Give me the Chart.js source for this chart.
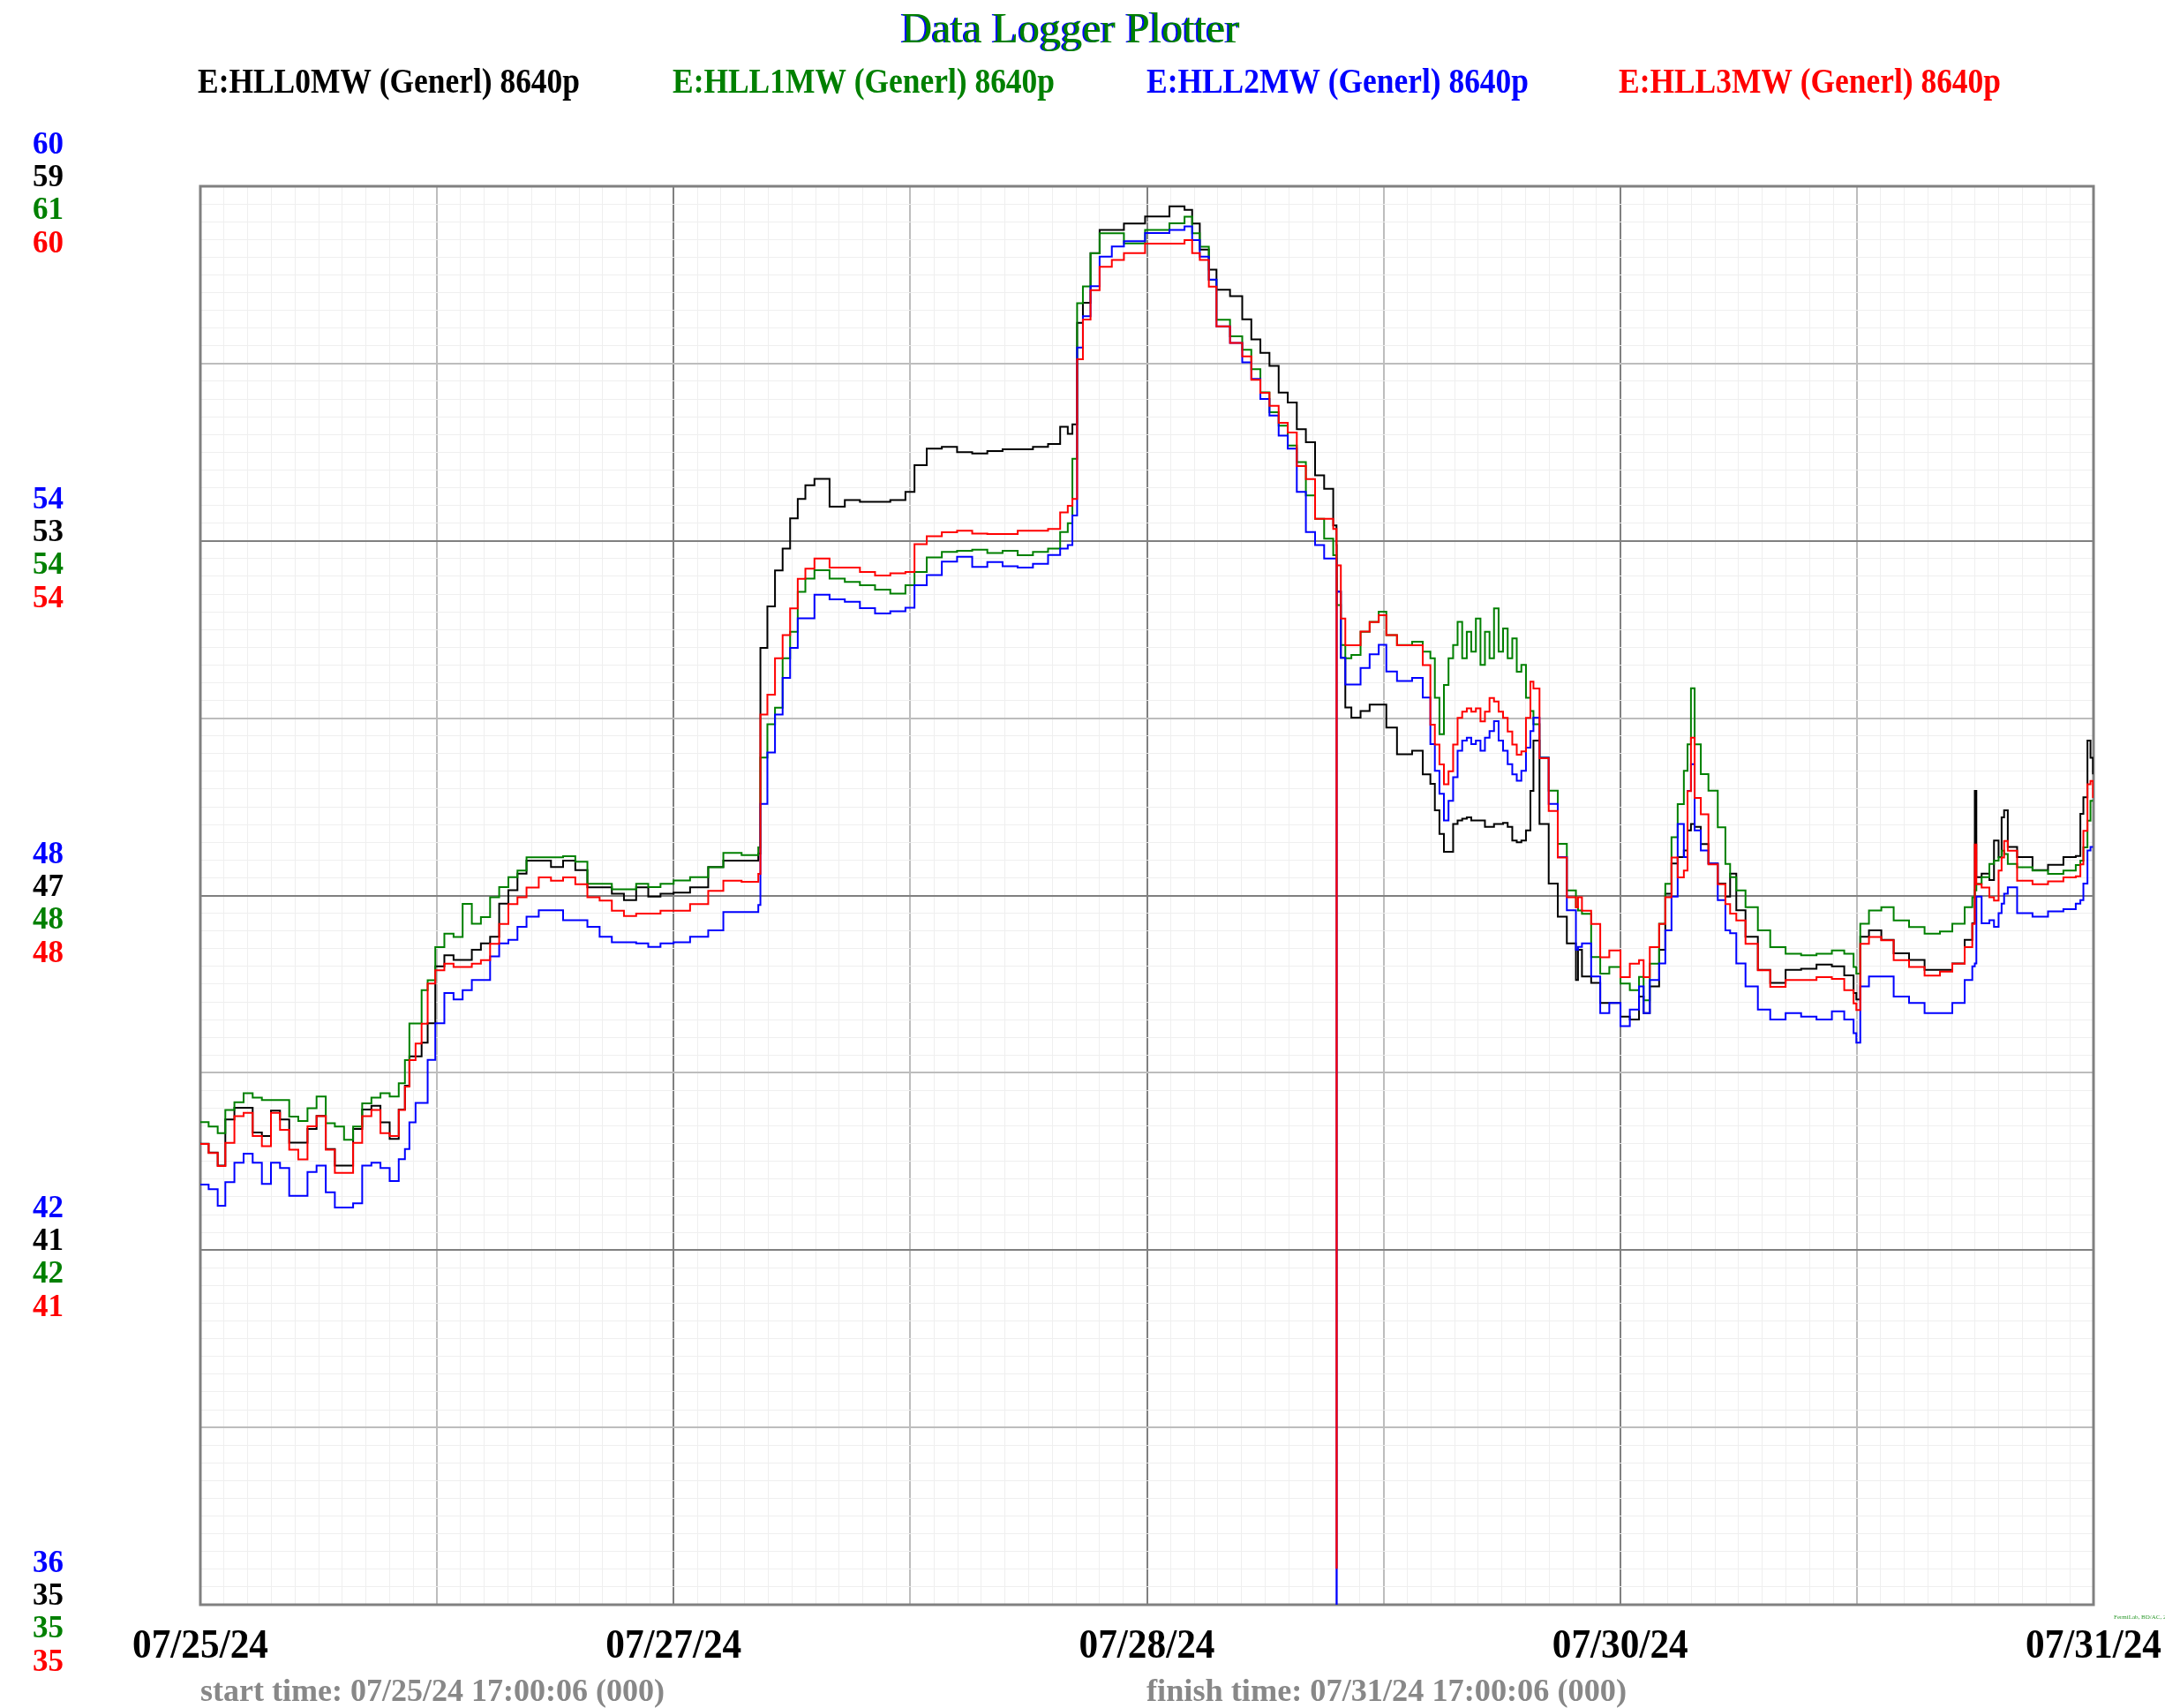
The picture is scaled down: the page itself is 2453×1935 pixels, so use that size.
<!DOCTYPE html>
<html>
<head>
<meta charset="utf-8">
<title>Data Logger Plotter</title>
<script src="https://cdn.jsdelivr.net/npm/chart.js"></script>
<style>
	html, body { margin: 0; padding: 0; background: #ffffff; }
	#wrap { width: 2453px; height: 1935px; }
</style>
</head>
<body>
<div id="wrap"><canvas id="plot" width="2453" height="1935"></canvas></div>
<script>
// hours since the start time (07/25/24 17:00:06)
const hours = [
	0, 0.63, 1.32, 1.9, 2.59, 3.29, 3.98, 4.68, 5.37, 6.06, 6.76, 7.45, 8.15, 8.84, 9.54, 10.23, 10.93, 11.62, 12.31, 13.01,
	13.7, 14.4, 15.09, 15.56, 15.9, 16.37, 16.83, 17.29, 17.87, 18.56, 19.26, 19.95, 20.65, 21.34, 22.04, 22.73, 23.43, 24.12, 24.81, 25.74,
	26.67, 27.59, 28.52, 29.44, 30.37, 31.3, 32.22, 33.15, 34.07, 35.0,
	36.0, 37.25, 38.63, 39.78, 41.17, 42.44, 42.6, 43.13, 43.71, 44.29, 44.86, 45.44, 46.02, 46.71, 47.86, 49.02, 50.17, 51.32, 52.48, 53.63,
	54.32, 55.25, 56.4, 57.56, 58.71, 59.86, 61.02, 62.17, 63.33, 64.48, 65.4, 65.98, 66.33, 66.69, 67.13, 67.71, 68.4, 69.33, 70.25,
	71.86, 73.71, 74.86, 75.44, 76.02, 76.71, 77.29, 78.32, 79.25, 79.94, 80.63, 81.32, 82.02, 82.71, 83.4, 84.09, 84.79, 85.48, 86.17, 86.42,
	86.44, 86.75, 87.09, 87.55, 88.25, 88.94, 89.63, 90.21, 91.02, 92.17, 92.98, 93.56, 93.9, 94.25, 94.59, 94.94, 95.29, 95.63, 95.98, 96.33,
	96.67, 97.02, 97.37, 97.71, 98.06, 98.4, 98.75, 99.09, 99.44, 99.79, 100.13, 100.48, 100.83, 101.17, 101.4, 101.86, 102.56, 103.25, 103.94, 104.63,
	104.79, 105.09, 105.79, 106.48, 107.17,
	108.02, 108.73, 109.43, 109.78, 110.25, 110.96, 111.43, 111.9, 112.37, 112.84, 113.12, 113.38, 113.66, 114.13, 114.71, 115.42, 116.0, 116.36, 116.83, 117.53,
	118.47, 119.41, 120.58, 121.76, 122.93, 124.1, 125.04, 125.75, 125.96, 126.26, 126.92, 127.86, 128.8, 129.97, 131.15, 132.32, 133.26, 134.2, 134.78, 134.97,
	135.09, 135.49, 136.08, 136.43, 136.78, 137.01, 137.2, 137.48, 138.19, 139.36, 140.54, 141.71, 142.65, 143.0, 143.23, 143.54, 143.77, 143.96
];

// E:HLL0MW (black)
const hll0 = [
	42.80, 42.65, 42.43, 43.21, 43.41, 43.41, 42.99, 42.93, 43.36, 43.21, 42.82, 42.82, 43.05, 43.27, 42.71, 42.43, 42.43, 43.05, 43.38, 43.44,
	43.16, 42.88, 43.38, 43.78, 44.28, 44.28, 44.51, 44.84, 45.80, 45.99, 45.91, 45.91, 46.08, 46.19, 46.30, 46.86, 47.09, 47.37, 47.59, 47.59,
	47.48, 47.59, 47.43, 47.14, 47.14, 47.03, 46.92, 47.14, 46.98, 47.03,
	47.05, 47.14, 47.48, 47.59, 47.59, 47.71, 51.19, 51.89, 52.50, 52.87, 53.38, 53.71, 53.94, 54.05, 53.58, 53.69, 53.66, 53.66, 53.69, 53.83,
	54.28, 54.56, 54.59, 54.50, 54.48, 54.52, 54.55, 54.55, 54.59, 54.64, 54.93, 54.81, 54.97, 56.69, 57.03, 57.87, 58.26, 58.26, 58.37,
	58.49, 58.66, 58.60, 58.37, 57.93, 57.59, 57.25, 57.14, 56.75, 56.41, 56.18, 55.96, 55.51, 55.34, 54.89, 54.67, 54.11, 53.88, 53.26, 52.93,
	52.14, 51.02, 50.18, 50.01, 50.12, 50.23, 50.23, 49.84, 49.39, 49.45, 49.05, 48.89, 48.44, 48.04, 47.74, 47.74, 48.21, 48.27, 48.30, 48.32,
	48.27, 48.27, 48.27, 48.16, 48.16, 48.21, 48.21, 48.23, 48.16, 47.93, 47.90, 47.93, 48.10, 48.77, 49.62, 48.21, 47.20, 46.64, 46.19, 45.57,
	46.08, 45.63, 45.52, 45.18, 45.18,
	44.95, 44.90, 45.29, 45.01, 45.46, 46.08, 47.03, 47.54, 47.65, 47.76, 48.10, 48.21, 48.16, 47.87, 47.54, 47.20, 46.98, 47.37, 46.75, 46.30,
	45.74, 45.52, 45.74, 45.76, 45.83, 45.80, 45.65, 45.35, 45.24, 46.30, 46.41, 46.25, 46.02, 45.91, 45.74, 45.74, 45.85, 46.25, 46.53, 48.77,
	47.31, 47.37, 47.26, 47.93, 47.65, 48.32, 48.44, 47.82, 47.65, 47.43, 47.52, 47.65, 47.67, 48.38, 48.66, 49.62, 49.33, 49.05
];

// E:HLL1MW (green)
const hll1 = [
	43.91, 43.83, 43.71, 44.13, 44.27, 44.43, 44.35, 44.31, 44.31, 44.31, 44.01, 43.93, 44.16, 44.37, 43.89, 43.83, 43.59, 43.83, 44.25, 44.35,
	44.43, 44.37, 44.61, 45.03, 45.69, 45.69, 46.29, 46.47, 47.07, 47.31, 47.25, 47.85, 47.49, 47.61, 47.97, 48.15, 48.33, 48.45, 48.69, 48.69,
	48.69, 48.71, 48.61, 48.21, 48.21, 48.11, 48.11, 48.21, 48.15, 48.21,
	48.27, 48.33, 48.51, 48.77, 48.73, 48.87, 50.49, 51.09, 51.39, 52.28, 52.76, 53.48, 53.72, 53.87, 53.72, 53.66, 53.60, 53.52, 53.45, 53.60,
	53.84, 54.10, 54.20, 54.22, 54.24, 54.18, 54.22, 54.14, 54.20, 54.26, 54.56, 54.72, 55.88, 58.69, 58.99, 59.59, 59.95, 59.95, 59.77,
	60.01, 60.13, 60.25, 59.95, 59.71, 59.11, 58.39, 58.09, 57.85, 57.50, 57.08, 56.72, 56.48, 56.12, 55.82, 55.22, 54.80, 54.44, 54.14, 53.72,
	53.24, 52.52, 52.28, 52.34, 52.76, 52.94, 53.12, 52.70, 52.52, 52.58, 52.40, 52.28, 51.57, 50.91, 51.80, 52.28, 52.52, 52.94, 52.28, 52.76,
	52.40, 53.00, 52.16, 52.76, 52.28, 53.18, 52.40, 52.82, 52.28, 52.64, 52.04, 52.16, 51.57, 51.33, 51.09, 50.49, 49.89, 48.93, 48.09, 47.79,
	47.73, 47.67, 46.89, 46.59, 46.71,
	46.41, 46.29, 46.53, 46.11, 46.77, 47.49, 48.21, 49.05, 49.65, 50.25, 50.73, 51.74, 50.73, 50.19, 49.89, 49.23, 48.57, 48.33, 48.09, 47.79,
	47.37, 47.07, 46.95, 46.92, 46.95, 47.01, 46.95, 46.71, 46.59, 47.49, 47.73, 47.79, 47.55, 47.43, 47.31, 47.35, 47.49, 47.79, 47.97, 48.09,
	48.21, 48.33, 48.57, 48.63, 48.69, 48.81, 48.75, 48.57, 48.51, 48.45, 48.39, 48.45, 48.55, 48.63, 48.87, 49.35, 49.71, 49.71
];

// E:HLL2MW (blue)
const hll2 = [
	43.11, 43.03, 42.75, 43.15, 43.48, 43.63, 43.48, 43.12, 43.48, 43.39, 42.92, 42.92, 43.32, 43.43, 42.98, 42.72, 42.72, 42.79, 43.43, 43.48,
	43.39, 43.17, 43.54, 43.71, 44.16, 44.49, 44.49, 45.22, 45.84, 46.35, 46.24, 46.40, 46.57, 46.57, 46.97, 47.19, 47.25, 47.47, 47.64, 47.75,
	47.75, 47.58, 47.58, 47.47, 47.30, 47.21, 47.21, 47.19, 47.13, 47.19,
	47.21, 47.30, 47.41, 47.72, 47.72, 47.84, 49.55, 50.42, 51.06, 51.68, 52.19, 52.69, 52.69, 53.09, 53.01, 52.97, 52.86, 52.77, 52.81, 52.87,
	53.25, 53.42, 53.65, 53.73, 53.56, 53.64, 53.57, 53.55, 53.61, 53.76, 53.87, 53.93, 54.43, 57.27, 57.80, 58.31, 58.81, 58.98, 59.07,
	59.21, 59.26, 59.32, 59.09, 58.81, 58.42, 57.63, 57.35, 57.02, 56.74, 56.40, 56.12, 55.78, 55.56, 54.83, 54.15, 53.93, 53.70, 53.70, 35.90,
	53.14, 52.02, 51.57, 51.57, 51.85, 52.08, 52.24, 51.79, 51.63, 51.68, 51.35, 50.56, 50.11, 49.72, 49.27, 49.60, 50.00, 50.45, 50.62, 50.67,
	50.56, 50.62, 50.45, 50.67, 50.78, 50.95, 50.62, 50.45, 50.22, 50.05, 49.94, 50.11, 50.50, 50.78, 51.01, 50.33, 49.55, 48.65, 47.75, 47.08,
	47.13, 47.19, 46.63, 46.01, 46.18,
	45.79, 46.07, 46.46, 46.01, 46.57, 46.85, 47.41, 47.98, 49.21, 48.65, 49.77, 50.22, 49.10, 48.76, 48.54, 47.92, 47.41, 47.36, 46.85, 46.46,
	46.07, 45.90, 46.01, 45.95, 45.90, 46.04, 45.90, 45.67, 45.51, 46.46, 46.63, 46.63, 46.29, 46.18, 46.01, 46.01, 46.18, 46.57, 46.80, 46.85,
	47.98, 47.53, 47.58, 47.47, 47.70, 47.86, 48.03, 48.14, 47.70, 47.64, 47.73, 47.77, 47.86, 47.92, 48.20, 48.76, 48.82, 48.82
];

// E:HLL3MW (red)
const hll3 = [
	43.12, 42.96, 42.73, 43.14, 43.61, 43.67, 43.26, 43.08, 43.67, 43.37, 43.02, 42.85, 43.43, 43.61, 43.02, 42.61, 42.61, 43.14, 43.61, 43.72,
	43.31, 43.26, 43.72, 44.13, 44.60, 44.89, 45.24, 45.95, 46.18, 46.30, 46.24, 46.24, 46.30, 46.36, 46.65, 47.00, 47.35, 47.47, 47.64, 47.82,
	47.76, 47.82, 47.70, 47.47, 47.41, 47.23, 47.14, 47.18, 47.18, 47.23,
	47.23, 47.35, 47.58, 47.76, 47.74, 47.88, 50.69, 51.04, 51.68, 52.09, 52.56, 53.08, 53.26, 53.44, 53.28, 53.28, 53.20, 53.14, 53.18, 53.20,
	53.69, 53.83, 53.90, 53.93, 53.88, 53.87, 53.87, 53.93, 53.93, 53.96, 54.25, 54.37, 54.49, 56.95, 57.65, 58.17, 58.58, 58.70, 58.82,
	58.99, 58.99, 59.05, 58.82, 58.70, 58.23, 57.53, 57.24, 57.00, 56.59, 56.36, 56.13, 55.83, 55.66, 55.07, 54.84, 54.14, 54.14, 53.96, 35.65,
	53.32, 52.38, 51.91, 51.91, 52.15, 52.32, 52.44, 52.09, 51.91, 51.91, 51.56, 50.51, 50.16, 49.81, 49.46, 49.69, 50.16, 50.63, 50.74, 50.80,
	50.74, 50.80, 50.57, 50.74, 50.98, 50.92, 50.74, 50.63, 50.39, 50.16, 49.98, 50.04, 50.63, 51.27, 51.15, 49.92, 48.99, 48.17, 47.47, 47.29,
	47.47, 47.23, 47.00, 46.41, 46.53,
	46.06, 46.30, 46.36, 46.06, 46.59, 47.00, 47.47, 48.17, 47.82, 47.94, 49.34, 50.28, 49.22, 48.93, 48.05, 47.70, 47.35, 47.18, 47.06, 46.65,
	46.18, 45.89, 46.01, 46.01, 46.06, 46.03, 45.83, 45.60, 45.48, 46.65, 46.77, 46.71, 46.36, 46.24, 46.09, 46.16, 46.30, 46.59, 47.00, 48.40,
	47.70, 47.64, 47.47, 47.41, 47.94, 48.17, 48.46, 48.29, 47.76, 47.70, 47.75, 47.82, 47.84, 48.05, 48.64, 49.46, 49.52, 49.22
];

const seriesNames = [
	"E:HLL0MW (Generl) 8640p",
	"E:HLL1MW (Generl) 8640p",
	"E:HLL2MW (Generl) 8640p",
	"E:HLL3MW (Generl) 8640p",
];

// left hand labels, top to bottom, one list per trace
const ticks0 = ["59", "53", "47", "41", "35"];
const ticks1 = ["61", "54", "48", "42", "35"];
const ticks2 = ["60", "54", "48", "42", "36"];
const ticks3 = ["60", "54", "48", "41", "35"];

const dateLabels = ["07/25/24", "07/27/24", "07/28/24", "07/30/24", "07/31/24"];
const dateHours = [0, 36, 72, 108, 144];

const startText = "start time: 07/25/24 17:00:06 (000)";
const finishText = "finish time: 07/31/24 17:00:06 (000)";

const BLACK = "#000000";
const GREEN = "#008000";
const BLUE = "#0000ff";
const RED = "#ff0000";
const SERIF = "'Liberation Serif', 'Times New Roman', serif";

function toPoints(vals) {
	return vals.map((v, i) => ({ x: hours[i], y: v }));
}

// 0 = dark major line, 1 = light major line, 2 = fine grid
function gridLevel(idx) {
	if (idx % 20 === 0) return 0;
	if (idx % 10 === 0) return 1;
	return 2;
}
const gridColors = ["#808080", "#bdbdbd", "#efefef"];
const gridWidths = [2, 2, 1];

// stretch or squeeze text to a given width
function drawFit(ctx, text, x, y, width, align) {
	const w = ctx.measureText(text).width;
	ctx.save();
	ctx.translate(x, y);
	ctx.scale(width / w, 1);
	ctx.textAlign = align;
	ctx.fillText(text, 0, 0);
	ctx.restore();
}

const loggerText = {
	id: "loggerText",
	beforeDatasetsDraw(chart) {
		const a = chart.chartArea;
		const ctx = chart.ctx;
		ctx.save();
		ctx.strokeStyle = "#808080";
		ctx.lineWidth = 3;
		ctx.strokeRect(a.left, a.top, a.right - a.left, a.bottom - a.top);
		ctx.restore();
	},
	afterDraw(chart) {
		const ctx = chart.ctx;
		const xs = chart.scales.x;
		const ys = chart.scales.y;
		ctx.save();
		ctx.textBaseline = "alphabetic";

		// title, green with a blue edge
		ctx.font = "48px " + SERIF;
		ctx.fillStyle = BLUE;
		drawFit(ctx, "Data Logger Plotter", 1211, 48, 383, "center");
		ctx.fillStyle = GREEN;
		drawFit(ctx, "Data Logger Plotter", 1213, 48, 383, "center");

		// trace names
		ctx.font = "bold 41px " + SERIF;
		const nameX = [224, 762, 1299, 1834];
		const nameColors = [BLACK, GREEN, BLUE, RED];
		seriesNames.forEach((name, i) => {
			ctx.fillStyle = nameColors[i];
			drawFit(ctx, name, nameX[i], 105, 433, "left");
		});

		// stacked value labels on the left
		ctx.font = "bold 35px " + SERIF;
		ctx.textAlign = "left";
		ctx.textBaseline = "middle";
		const stacks = [[ticks2, BLUE], [ticks0, BLACK], [ticks1, GREEN], [ticks3, RED]];
		const offsets = [-46, -9, 28, 66];
		for (let k = 0; k < 5; k++) {
			const yLine = ys.getPixelForValue(80 - k * 20);
			stacks.forEach(([labels, color], j) => {
				ctx.fillStyle = color;
				ctx.fillText(labels[k], 37, yLine + offsets[j]);
			});
		}

		// dates under the plot
		ctx.textBaseline = "alphabetic";
		ctx.textAlign = "center";
		ctx.font = "bold 46px " + SERIF;
		ctx.fillStyle = BLACK;
		dateLabels.forEach((d, i) => {
			drawFit(ctx, d, xs.getPixelForValue(dateHours[i]), 1878, 154, "center");
		});

		// start / finish
		ctx.font = "bold 35px " + SERIF;
		ctx.fillStyle = "#888888";
		drawFit(ctx, startText, 227, 1927, 526, "left");
		drawFit(ctx, finishText, 1299, 1927, 544, "left");

		ctx.font = "7px " + SERIF;
		ctx.fillStyle = "#2e9a2e";
		ctx.textAlign = "left";
		ctx.fillText("FermiLab, BD/AC, 2001, 1", 2395, 1834);
		ctx.restore();
	},
};

const lineStyle = { borderWidth: 2, pointRadius: 0, stepped: true, fill: false };

new Chart(document.getElementById("plot").getContext("2d"), {
	type: "line",
	data: {
		datasets: [
			Object.assign({ label: seriesNames[3], data: toPoints(hll3), borderColor: RED, yAxisID: "y3" }, lineStyle),
			Object.assign({ label: seriesNames[2], data: toPoints(hll2), borderColor: BLUE, yAxisID: "y2" }, lineStyle),
			Object.assign({ label: seriesNames[1], data: toPoints(hll1), borderColor: GREEN, yAxisID: "y1" }, lineStyle),
			Object.assign({ label: seriesNames[0], data: toPoints(hll0), borderColor: BLACK, yAxisID: "y0" }, lineStyle),
		],
	},
	options: {
		responsive: false,
		animation: false,
		devicePixelRatio: 1,
		events: [],
		layout: { padding: { left: 227, top: 211, right: 81, bottom: 117 } },
		plugins: {
			legend: { display: false },
			title: { display: false },
			tooltip: { enabled: false },
		},
		scales: {
			x: {
				type: "linear",
				min: 0,
				max: 144,
				ticks: { display: false, stepSize: 1.8, autoSkip: false },
				border: { display: false },
				grid: {
					drawTicks: false,
					color: (c) => gridColors[gridLevel(Math.round((c.tick ? c.tick.value : 0) / 1.8))],
					lineWidth: (c) => gridWidths[gridLevel(Math.round((c.tick ? c.tick.value : 0) / 1.8))],
				},
			},
			y: {
				type: "linear",
				min: 0,
				max: 80,
				ticks: { display: false, stepSize: 1 },
				border: { display: false },
				grid: {
					drawTicks: false,
					color: (c) => gridColors[gridLevel(Math.round(c.tick ? c.tick.value : 0))],
					lineWidth: (c) => gridWidths[gridLevel(Math.round(c.tick ? c.tick.value : 0))],
				},
			},
			y0: { type: "linear", display: false, min: 35, max: 59 },
			y1: { type: "linear", display: false, min: 35.2, max: 60.8 },
			y2: { type: "linear", display: false, min: 36, max: 60 },
			y3: { type: "linear", display: false, min: 35, max: 60 },
		},
	},
	plugins: [loggerText],
});
</script>
</body>
</html>
